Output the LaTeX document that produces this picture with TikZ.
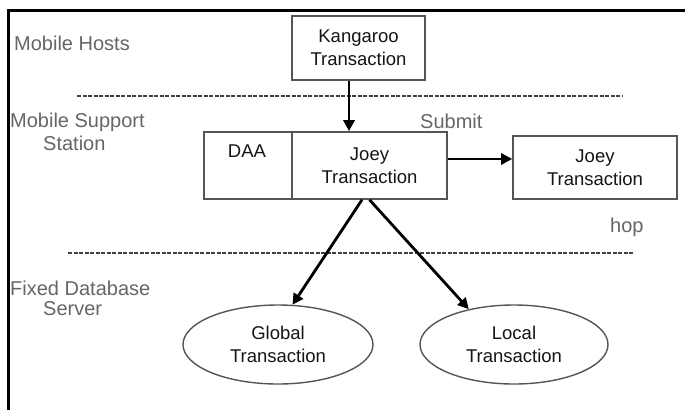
\documentclass[tikz,border=0pt]{standalone}
\usepackage{fontspec}
\setmainfont{Liberation Sans}
\usetikzlibrary{arrows.meta,shapes.geometric}
\definecolor{lblgray}{HTML}{666666}
\definecolor{edgegray}{HTML}{555555}
\definecolor{txtdark}{HTML}{151515}
\begin{document}
\begin{tikzpicture}[x=1pt,y=-1pt,
  tier/.style={anchor=west,inner sep=0pt,text=lblgray,
    font=\fontsize{20}{21}\selectfont},
  boxtext/.style={text=txtdark,font=\fontsize{18.5}{23}\selectfont,align=center},
  txbox/.style={boxtext,draw=edgegray,line width=1.6pt,rectangle,inner sep=0pt},
  txell/.style={boxtext,draw=edgegray,line width=1.4pt,ellipse,inner sep=0pt},
  arr/.style={draw=black,line width=2.8pt,-{Triangle[length=11pt,width=11pt]}},
  tierline/.style={draw=black!75,line width=2pt,dash pattern=on 4pt off 1.5pt}]
\useasboundingbox (0,0) rectangle (685,410);
\fill[white] (0,0) rectangle (685,410);

% frame edges along the top and the left
\draw[black,line width=3pt] (7,10) -- (685,10);
\draw[black,line width=3pt] (8.5,10) -- (8.5,410);

% tier separators
\draw[tierline] (77,95.5) -- (623,95.5);
\draw[tierline] (68,253) -- (633,253);

% tier labels
\node[tier] (mh)  at (14,43)  {Mobile Hosts};
\node[tier] (ms1) at (10,122) {Mobile Support};
\node[tier] (ms2) at (43,143) {Station};
\node[tier] (fd1) at (10,288) {Fixed Database};
\node[tier] (fd2) at (43,309) {Server};
\node[tier] (sub) at (420,121) {Submit};
\node[tier] (hop) at (610,227) {hop};

% transactions
\node[txbox,minimum width=133pt,minimum height=64pt] (kang) at (358.5,48)
  {Kangaroo\\Transaction};
\node[txbox,minimum width=88pt,minimum height=67pt] (daa) at (248,165.5) {};
\node[boxtext] (daalbl) at (247,151) {DAA};
\node[txbox,minimum width=155pt,minimum height=67pt] (joey1) at (369.5,165.5)
  {Joey\\Transaction};
\node[txbox,minimum width=164pt,minimum height=63pt] (joey2) at (595,167.5)
  {Joey\\Transaction};
\node[txell,minimum width=190pt,minimum height=79pt] (glob) at (278,344.5)
  {Global\\Transaction};
\node[txell,minimum width=188pt,minimum height=79pt] (loc) at (514,344.5)
  {Local\\Transaction};

% connectors
\draw[arr] ([xshift=-9.5pt]kang.south) -- ([xshift=-9.5pt]kang.south |- joey1.north);
\draw[arr] ([yshift=6.5pt]joey1.east) -- ([yshift=6.5pt]joey1.east -| joey2.west);
\draw[arr] ([xshift=-7.5pt]joey1.south) -- (glob.70);
\draw[arr] (joey1.south) -- (loc.142);
\end{tikzpicture}
\end{document}
